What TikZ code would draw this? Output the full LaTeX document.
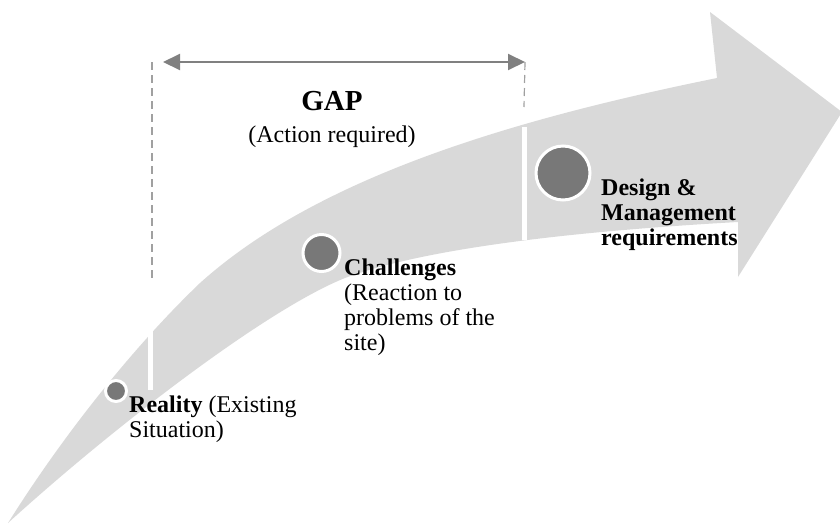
\documentclass[tikz,border=0pt]{standalone}
\usepackage{fontspec}
\setmainfont{Liberation Serif}
\usetikzlibrary{arrows.meta}
\definecolor{bandgray}{RGB}{217,217,217}
\definecolor{dotgray}{RGB}{120,120,120}
\definecolor{linegray}{RGB}{128,128,128}
\tikzset{
  stage/.style={circle, fill=dotgray, draw=white, line width=3pt, inner sep=0pt},
  stagetext/.style={anchor=base west, inner sep=0pt, align=left, font=\fontsize{24}{25}\selectfont},
  marker/.style={white, line width=4.5pt},
  guide/.style={linegray!75, line width=1.2pt, dash pattern=on 8pt off 5pt},
}

\begin{document}
\begin{tikzpicture}[x=1pt, y=-1pt]
  \useasboundingbox (0,0) rectangle (840,523);

  \fill[bandgray] (8,523) .. controls (60,440) and (130,350) .. (200,283)
    .. controls (320,175) and (520,118) .. (717,78) -- (710,12) -- (842,112)
    -- (738,277) -- (738,222) .. controls (560,232) and (420,250) .. (345,278)
    .. controls (265,310) and (110,430) .. (8,523) -- cycle;

  \draw[marker] (150.5,323) -- (150.5,390);
  \draw[marker] (524.5,127) -- (524.5,240);

  \coordinate (gapL) at (163,62);
  \coordinate (gapR) at (525,62);
  \coordinate (leftTop) at (152,62);
  \coordinate (leftEnd) at (152,278);
  \coordinate (rightEnd) at (524,107);

  \draw[guide] (leftTop) -- (leftEnd);
  \draw[guide] (gapR) -- (rightEnd);
  \draw[linegray, line width=2pt, {Triangle[length=17pt,width=16pt]}-{Triangle[length=17pt,width=16pt]}] (gapL) -- (gapR);

  \node[font=\bfseries\fontsize{29}{30}\selectfont, anchor=base] (gap) at (332,110) {GAP};
  \node[font=\fontsize{24}{25}\selectfont, anchor=base] (action) at (332,142) {(Action required)};

  \node[stage, minimum size=21pt] (reality) at (116,391) {};
  \node[stage, minimum size=37pt] (challenges) at (321.5,253) {};
  \node[stage, minimum size=54pt] (design) at (563,173) {};

  % base sits on the last line
  \node[stagetext] (realityText) at (129,437) {\textbf{Reality} (Existing\\Situation)};
  \node[stagetext] (challengesText) at (344,350) {\textbf{Challenges}\\(Reaction to\\problems of the\\site)};
  \node[stagetext, font=\bfseries\fontsize{24}{25}\selectfont] (designText) at (601,245) {Design \&\\Management\\requirements};
\end{tikzpicture}
\end{document}
